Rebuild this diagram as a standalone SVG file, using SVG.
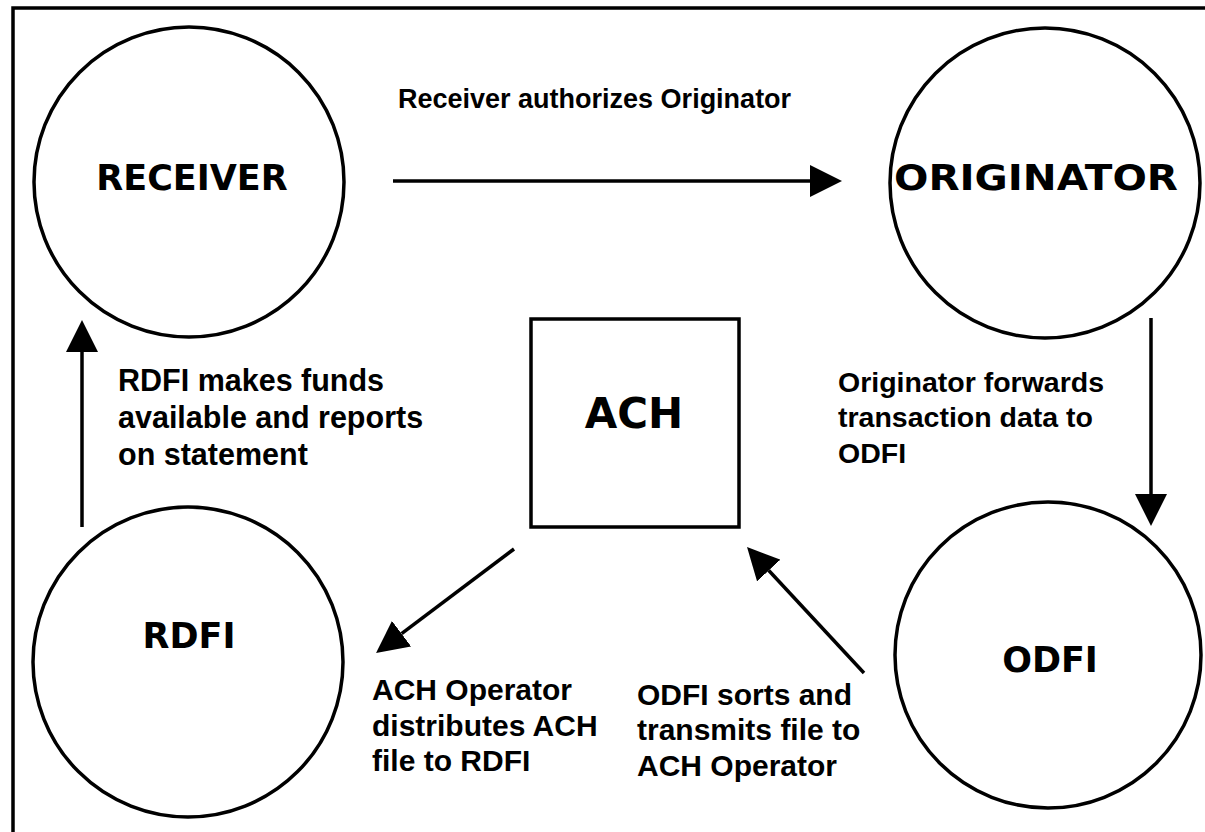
<svg xmlns="http://www.w3.org/2000/svg" width="1205" height="832" viewBox="0 0 1205 832">
<style>
.node{fill:#fff;stroke:#000;stroke-width:3.5}
.nt{font-family:"DejaVu Sans",Verdana,sans-serif;font-weight:bold;font-size:35px;fill:#000;text-anchor:middle}
.lb{font-family:"Liberation Sans",Arial,sans-serif;font-weight:bold;font-size:28.5px;fill:#000}
.cn{stroke:#000;stroke-width:3.5;fill:none;marker-end:url(#ah)}
</style>
<defs>
<marker id="ah" markerUnits="userSpaceOnUse" viewBox="0 0 32 32" refX="0" refY="16" markerWidth="32" markerHeight="32" orient="auto">
<path d="M0,0 L32,16 L0,32 Z" fill="#000"/>
</marker>
</defs>
<rect x="0" y="0" width="1205" height="832" fill="#fff"/>
<rect x="13" y="8" width="1200" height="830" fill="none" stroke="#000" stroke-width="3.5"/>
<g id="receiver"><circle class="node" cx="189" cy="182" r="155"/><text class="nt" x="192" y="190">RECEIVER</text></g>
<g id="originator"><circle class="node" cx="1045" cy="183" r="155"/><text class="nt" x="1036" y="190" textLength="284" lengthAdjust="spacingAndGlyphs">ORIGINATOR</text></g>
<g id="odfi"><circle class="node" cx="1048" cy="655" r="153"/><text class="nt" x="1050" y="672">ODFI</text></g>
<g id="rdfi"><circle class="node" cx="188" cy="662" r="155"/><text class="nt" x="189" y="648">RDFI</text></g>
<g id="ach"><rect class="node" x="531" y="319" width="208" height="208"/><text class="nt" x="634" y="428" style="font-size:42px">ACH</text></g>
<g id="connectors">
<line class="cn" x1="393" y1="181" x2="810" y2="181"/>
<line class="cn" x1="1151" y1="318" x2="1151" y2="494"/>
<line class="cn" x1="82" y1="527" x2="82" y2="352"/>
<line class="cn" x1="514" y1="549" x2="401.6" y2="633.7"/>
<line class="cn" x1="864" y1="673" x2="768.8" y2="570.5"/>
</g>
<g id="labels">
<text class="lb" x="398" y="108" style="font-size:27px">Receiver authorizes Originator</text>
<g style="font-size:30.5px">
<text class="lb" x="118" y="391" style="font-size:30.5px">RDFI makes funds</text>
<text class="lb" x="118" y="428" style="font-size:30.5px">available and reports</text>
<text class="lb" x="118" y="465" style="font-size:30.5px">on statement</text>
</g>
<text class="lb" x="838" y="392">Originator forwards</text>
<text class="lb" x="838" y="427">transaction data to</text>
<text class="lb" x="838" y="463">ODFI</text>
<text class="lb" x="372" y="700" style="font-size:30px">ACH Operator</text>
<text class="lb" x="372" y="736" style="font-size:30px">distributes ACH</text>
<text class="lb" x="372" y="771" style="font-size:30px">file to RDFI</text>
<text class="lb" x="637" y="705" style="font-size:30px">ODFI sorts and</text>
<text class="lb" x="637" y="740" style="font-size:30px">transmits file to</text>
<text class="lb" x="637" y="776" style="font-size:30px">ACH Operator</text>
</g>
</svg>
